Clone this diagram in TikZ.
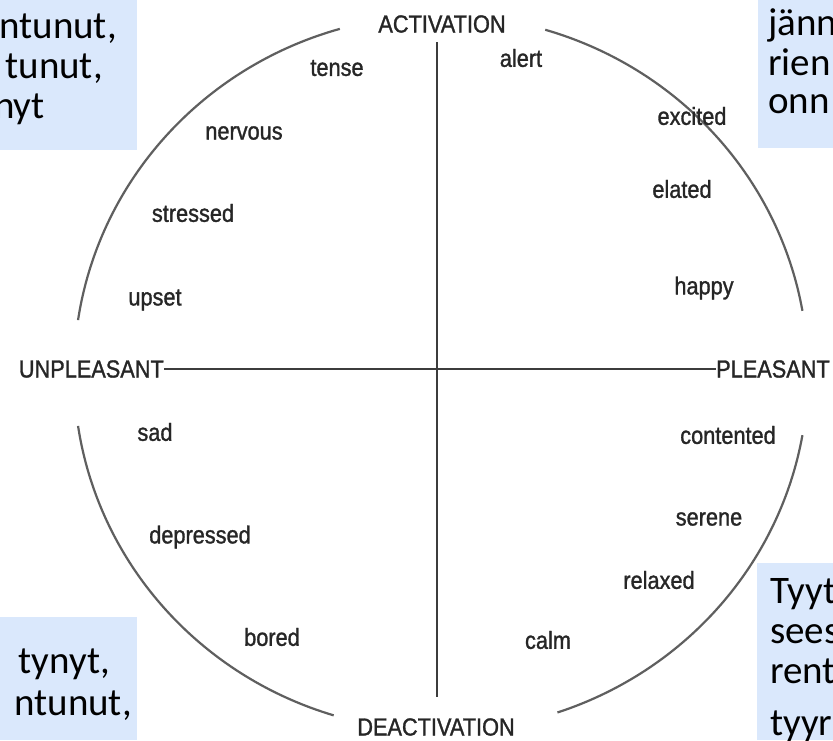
\documentclass[tikz,border=0pt]{standalone}
\usepackage{fontspec}
\setmainfont{Liberation Sans}
\newfontfamily\wordfont{Liberation Sans}[FakeStretch=0.88,FakeBold=1.2]
\newfontfamily\boxfont{Carlito}
\definecolor{boxblue}{RGB}{218,232,252}
\definecolor{ink}{RGB}{38,38,38}
\definecolor{rim}{RGB}{95,95,95}
\begin{document}
\begin{tikzpicture}[x=1pt,y=-1pt,
  axislbl/.style={font=\wordfont\fontsize{24.7}{27}\selectfont, text=ink, inner sep=0pt},
  word/.style={font=\wordfont\fontsize{24.7}{27}\selectfont, text=ink, inner sep=0pt},
  bluebox/.style={fill=boxblue, draw=none},
  btxt/.style={font=\boxfont\fontsize{39}{42}\selectfont, text=black, inner sep=0pt},
  axisline/.style={draw=ink!90, line width=1.8pt},
  rimline/.style={draw=rim, line width=2.2pt}]
\useasboundingbox (0,0) rectangle (833,740);
\clip (0,0) rectangle (833,740);
\fill[white] (0,0) rectangle (833,740);
% blue boxes
\fill[bluebox] (0,0) rectangle (137,150);
\fill[bluebox] (758,0) rectangle (833,148);
\fill[bluebox] (0,617) rectangle (137,740);
\fill[bluebox] (757,563) rectangle (833,740);
% box texts
\node[btxt, anchor=base east] (tl1) at (117,38) {ntunut,};
\node[btxt, anchor=base east] (tl2) at (103,78) {tunut,};
\node[btxt, anchor=base east] (tl3) at (45,118) {nyt};
\node[btxt, anchor=base west] (tr1) at (768,35) {jänn};
\node[btxt, anchor=base west] (tr2) at (768,75) {rien};
\node[btxt, anchor=base west] (tr3) at (768,113) {onn};
\node[btxt, anchor=base east] (bl1) at (110,673) {tynyt,};
\node[btxt, anchor=base east] (bl2) at (132,715) {ntunut,};
\node[btxt, anchor=base west] (br1) at (770,603) {Tyyt};
\node[btxt, anchor=base west] (br2) at (770,643) {sees};
\node[btxt, anchor=base west] (br3) at (770,683) {rent};
\node[btxt, anchor=base west] (br4) at (770,735) {tyyr};
% circle arcs
\coordinate (c) at (441,373);
\draw[rimline] ([shift={(10:367pt and 358pt)}]c) arc[start angle=10, end angle=73.5, x radius=367pt, y radius=358pt];
\draw[rimline] ([shift={(106:367pt and 358pt)}]c) arc[start angle=106, end angle=171.5, x radius=367pt, y radius=358pt];
\draw[rimline] ([shift={(188.5:367pt and 358pt)}]c) arc[start angle=188.5, end angle=253, x radius=367pt, y radius=358pt];
\draw[rimline] ([shift={(288.5:367pt and 358pt)}]c) arc[start angle=288.5, end angle=350, x radius=367pt, y radius=358pt];
% axis labels
\node[axislbl] (act) at (442,24) {ACTIVATION};
\node[axislbl] (deact) at (436,727) {DEACTIVATION};
\node[axislbl, anchor=east] (unp) at (164,369) {UNPLEASANT};
\node[axislbl, anchor=west] (pls) at (716,369) {PLEASANT};
\coordinate (vtop) at (437,42);
\coordinate (vbot) at (437,697);
\draw[axisline] (vtop) -- (vbot);
\draw[axisline] (unp.east) -- (pls.west);
% emotion words
\node[word] (tense) at (337,68) {tense};
\node[word] (alert) at (521,58) {alert};
\node[word] (nervous) at (244,133) {nervous};
\node[word] (excited) at (692,116) {excited};
\node[word] (stressed) at (193,213) {stressed};
\node[word] (elated) at (682,189) {elated};
\node[word] (upset) at (155,300) {upset};
\node[word] (happy) at (704,288) {happy};
\node[word] (sad) at (155,432) {sad};
\node[word] (contented) at (728,435) {contented};
\node[word] (depressed) at (200,537) {depressed};
\node[word] (serene) at (709,519) {serene};
\node[word] (relaxed) at (659,580) {relaxed};
\node[word] (bored) at (272,637) {bored};
\node[word] (calm) at (548,640) {calm};
\end{tikzpicture}
\end{document}
